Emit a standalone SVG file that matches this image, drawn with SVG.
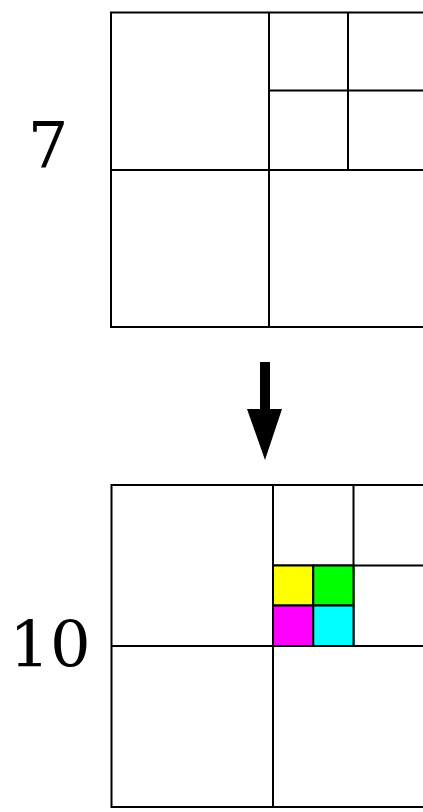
<svg xmlns="http://www.w3.org/2000/svg" width="423" height="812" viewBox="0 0 423 812">
<style>
.g{fill:none;stroke:#000;stroke-width:2}
.c{stroke:#000;stroke-width:2}
.t{font-family:"DejaVu Serif",serif;font-size:64px;fill:#000;text-anchor:middle}
</style>
<rect width="423" height="812" fill="#fff"/>
<g id="grid7">
<rect class="g" x="111" y="12.5" width="316" height="314.5"/>
<line class="g" x1="269" y1="12.5" x2="269" y2="327" stroke-width="2.5"/>
<line class="g" x1="111" y1="170" x2="427" y2="170"/>
<line class="g" x1="348" y1="12.5" x2="348" y2="170"/>
<line class="g" x1="269" y1="90.5" x2="427" y2="90.5"/>
</g>
<g id="label7"><text class="t" x="48" y="167">7</text></g>
<g id="connectors">
<polygon points="260,362 270,362 270,409 282,409 265,460 247,409 260,409" fill="#000"/>
</g>
<g id="grid10">
<rect class="g" x="111.5" y="485" width="323" height="322"/>
<line class="g" x1="273" y1="485" x2="273" y2="807"/>
<line class="g" x1="111.5" y1="646" x2="434.5" y2="646"/>
<line class="g" x1="353.5" y1="485" x2="353.5" y2="646"/>
<line class="g" x1="273" y1="565.5" x2="434.5" y2="565.5"/>
<rect class="c" x="273" y="565.5" width="40.25" height="40" fill="#ffff00"/>
<rect class="c" x="313.25" y="565.5" width="40.25" height="40" fill="#00ff00"/>
<rect class="c" x="273" y="605.5" width="40.25" height="40.5" fill="#ff00ff"/>
<rect class="c" x="313.25" y="605.5" width="40.25" height="40.5" fill="#00ffff"/>
</g>
<g id="label10"><text class="t" x="50" y="667">10</text></g>
</svg>
